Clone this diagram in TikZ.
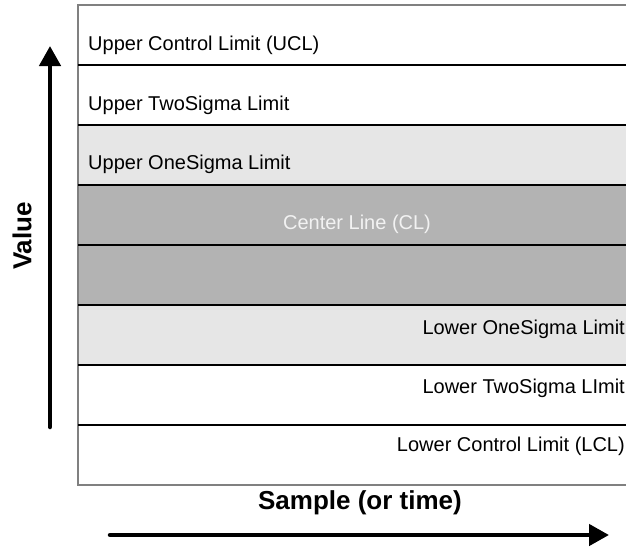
\documentclass[tikz,border=0pt]{standalone}
\usepackage{fontspec}
\setmainfont{Liberation Sans}
\usetikzlibrary{arrows.meta}
\definecolor{bandlight}{HTML}{E6E6E6}
\definecolor{banddark}{HTML}{B3B3B3}
\definecolor{framegray}{HTML}{808080}
\definecolor{cltext}{HTML}{F2F2F2}
\begin{document}
\begin{tikzpicture}[x=1pt,y=-1pt,
  limit/.style={draw=black,line width=2pt},
  border/.style={draw=framegray,line width=1.3pt},
  lab/.style={font=\fontsize{20}{23}\selectfont,inner sep=0pt},
  axislab/.style={font=\bfseries\fontsize{26}{30}\selectfont,inner sep=0pt},
  axisarrow/.style={line width=4.5pt,line cap=round,-{Triangle[length=20pt,width=21pt]}}]
\useasboundingbox (0,0) rectangle (626,546);
% shaded bands
\fill[bandlight] (78,125) rectangle (626,185);
\fill[banddark]  (78,185) rectangle (626,305);
\fill[bandlight] (78,305) rectangle (626,365);
% frame
\draw[border] (626,5) -- (78,5) -- (78,485) -- (626,485);
% limit lines
\foreach \yy in {65,125,185,245,305,365,425}
  \draw[limit] (78,\yy) -- (626,\yy);
% limit labels
\node[lab,anchor=west] (ucl) at (88,45) {Upper Control Limit (UCL)};
\node[lab,anchor=west] (u2s) at (88,105) {Upper TwoSigma Limit};
\node[lab,anchor=west] (u1s) at (88,164) {Upper OneSigma Limit};
\node[lab,text=cltext] (cl) at (357,224) {Center Line (CL)};
\node[lab,anchor=east] (l1s) at (625,329) {Lower OneSigma Limit};
\node[lab,anchor=east] (l2s) at (625,388) {Lower TwoSigma LImit};
\node[lab,anchor=east] (lcl) at (625,446) {Lower Control Limit (LCL)};
% axes
\coordinate (vbot) at (50,427);
\coordinate (vtop) at (50,46);
\coordinate (hleft) at (110,535);
\coordinate (hright) at (609,535);
\draw[axisarrow] (vbot) -- (vtop);
\draw[axisarrow] (hleft) -- (hright);
\node[axislab,rotate=90] (val) at (22,236) {Value};
\node[axislab] (samp) at (360,503) {Sample (or time)};
\end{tikzpicture}
\end{document}
